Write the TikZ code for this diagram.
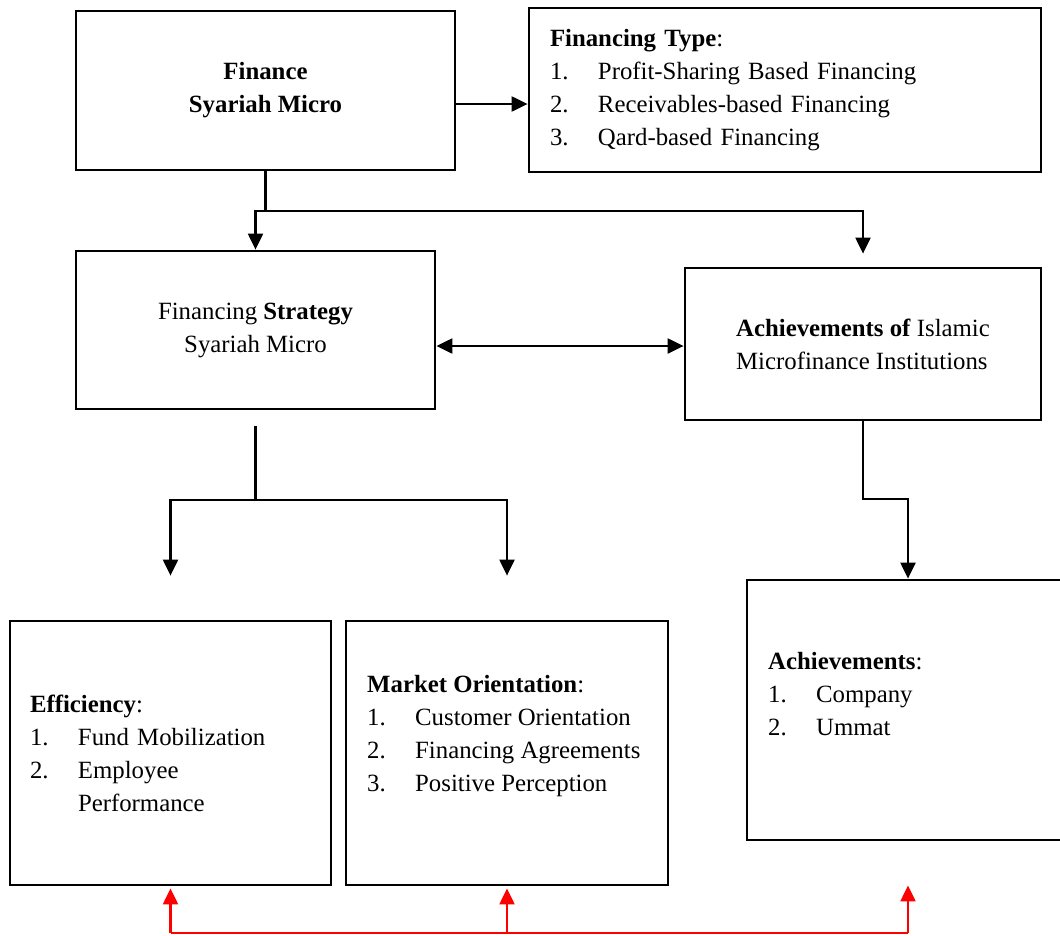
\documentclass[tikz,border=0pt]{standalone}
\usepackage{fontspec}
\setmainfont{Liberation Serif}
\usetikzlibrary{arrows.meta}
\newcommand{\itm}[1]{\makebox[48pt][l]{#1}}

\begin{document}
\begin{tikzpicture}[x=1pt,y=-1pt,>={Triangle[length=16pt,width=15pt]},
  box/.style={draw,line width=2.8pt,inner sep=0pt,align=center},
  conn/.style={line width=2.2pt},
  font=\fontsize{24.8}{33}\selectfont]
\useasboundingbox (0,0) rectangle (1060,935);
% boxes
\node[box,minimum width=379pt,minimum height=159pt] (fin) at (265.5,90.5) {\textbf{Finance}\\\textbf{Syariah Micro}};
\node[box,text width=470pt,inner xsep=21pt,minimum height=164pt,align=left] (type) at (785,90)
  {\textbf{Financing Type}:\\\itm{1.}Profit-Sharing Based Financing\\\itm{2.}Receivables-based Financing\\\itm{3.}Qard-based Financing};
\node[box,minimum width=359pt,minimum height=158pt] (strat) at (255.5,330) {Financing \textbf{Strategy}\\Syariah Micro};
\node[box,minimum width=356pt,minimum height=152pt,align=left] (ach) at (863,344) {\textbf{Achievements of} Islamic\\Microfinance Institutions};
\node[box,text width=281pt,inner xsep=20pt,minimum height=264pt,align=left] (eff) at (170.5,753)
  {\textbf{Efficiency}:\\\itm{1.}Fund Mobilization\\\itm{2.}Employee\\\hspace*{48pt}Performance};
\node[box,minimum width=322pt,minimum height=264pt] (mkt) at (507,753) {};
\node[anchor=west,align=left,inner sep=0pt] (mkttxt) at (367,736)
  {\textbf{Market Orientation}:\\\itm{1.}Customer Orientation\\\itm{2.}Financing Agreements\\\itm{3.}Positive Perception};
\node[box,minimum width=322pt,minimum height=260pt] (achv) at (908,710) {};
\node[anchor=west,align=left,inner sep=0pt] (achvtxt) at (768,694)
  {\textbf{Achievements}:\\\itm{1.}Company\\\itm{2.}Ummat};
% connectors
\draw[conn,->] (fin.east |- 0,104) -- (type.west |- 0,104);
\draw[conn,->] (fin.south) -- (fin.south |- 0,211) -| ([yshift=13pt]ach.north);
\draw[conn,->] (fin.south |- 0,211) -| (strat.north);
\draw[conn,<->] (strat.east |- 0,346) -- (ach.west |- 0,346);
\draw[conn] ([yshift=-16pt]strat.south) -- (strat.south |- 0,500);
\foreach \n in {eff,mkt}
  \draw[conn,->] (strat.south |- 0,500) -| ([yshift=44pt]\n.north);
\draw[conn,->] (ach.south) -- (ach.south |- 0,499) -| (achv.north);
% red links
\draw[conn,red] (eff.south |- 0,933) -- (achv.south |- 0,933);
\foreach \n/\g in {eff/2,mkt/2,achv/44}
  \draw[conn,red,->] (\n.south |- 0,933) -- ([yshift=-\g pt]\n.south);
\end{tikzpicture}
\end{document}
